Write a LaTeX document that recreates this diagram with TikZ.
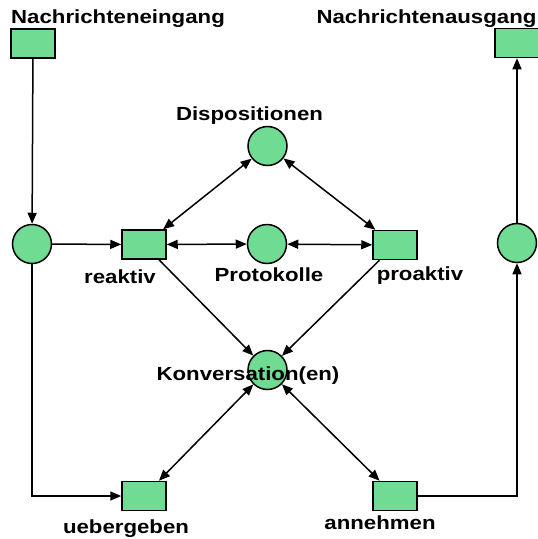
\documentclass[tikz,border=0pt]{standalone}
\usepackage{fontspec}
\newfontfamily\lblfont{Liberation Sans}[FakeStretch=1.17]
\usetikzlibrary{arrows.meta}
\definecolor{petri}{RGB}{112,219,147}
\begin{document}
\begin{tikzpicture}[x=1pt,y=-1pt,
  trans/.style={draw=black,line width=1.5pt,fill=petri,rectangle,minimum width=44pt,minimum height=29pt,inner sep=0pt},
  place/.style={draw=black,line width=1.5pt,fill=petri,circle,minimum size=39pt,inner sep=0pt},
  lbl/.style={font=\lblfont\bfseries\fontsize{19}{20}\selectfont,anchor=base,inner sep=0pt},
  conn/.style={line width=1.5pt,-{Triangle[length=11pt,width=9pt]}},
  bconn/.style={line width=1.5pt,{Triangle[length=11pt,width=9pt]}-{Triangle[length=11pt,width=9pt]}}]
\useasboundingbox (0,0) rectangle (538,539);
\fill[white] (0,0) rectangle (538,539);
% nodes
\node[trans] (ein) at (33,43.5) {};
\node[trans] (aus) at (517,43) {};
\node[place] (pL) at (32,244) {};
\node[trans] (reak) at (144,244.5) {};
\node[place] (prot) at (267,244) {};
\node[trans] (proak) at (395,245) {};
\node[place] (pR) at (517,243) {};
\node[place] (disp) at (267.5,146) {};
\node[place] (konv) at (267.5,370) {};
\node[trans] (ueber) at (144,496) {};
\node[trans] (annehm) at (395,496) {};
% labels
\node[lbl] (tein) at (118,23) {Nachrichteneingang};
\node[lbl] (taus) at (426.5,23) {Nachrichtenausgang};
\node[lbl] (tdisp) at (249.5,120) {Dispositionen};
\node[lbl] (treak) at (120,283) {reaktiv};
\node[lbl] (tprot) at (269,281) {Protokolle};
\node[lbl] (tproak) at (420,280) {proaktiv};
\node[lbl] (tueber) at (126,533) {uebergeben};
\node[lbl] (tannehm) at (380,529) {annehmen};
% connectors
\draw[conn] (ein) -- (pL);
\draw[conn] (pL) -- (reak);
\draw[conn] (pL) |- (ueber);
\draw[bconn] (disp) -- (reak);
\draw[bconn] (disp) -- (proak);
\draw[bconn] (reak) -- (prot);
\draw[bconn] (prot) -- (proak);
\draw[conn] (reak) -- (konv);
\draw[conn] (proak) -- (konv);
\draw[bconn] (konv) -- (ueber);
\draw[bconn] (konv) -- (annehm);
\draw[conn] (annehm) -| (pR);
\draw[conn] (pR) -- (aus);
\node[lbl] (tkonv) at (248,380) {Konversation(en)};
\end{tikzpicture}
\end{document}
